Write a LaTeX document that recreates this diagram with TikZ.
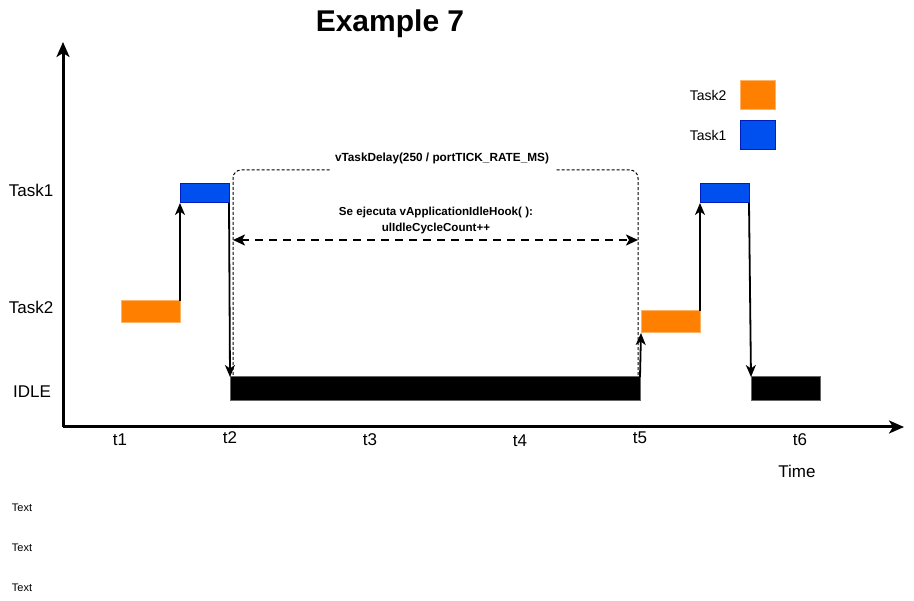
\documentclass[tikz,border=0pt]{standalone}
\usepackage{fontspec}
\setmainfont{Liberation Sans}
\usetikzlibrary{arrows.meta,positioning,calc}

\definecolor{tasktwofill}{HTML}{FF8000}
\definecolor{tasktwoline}{HTML}{FFB366}
\definecolor{taskonefill}{HTML}{0050EF}
\definecolor{taskoneline}{HTML}{001DBC}

\tikzset{
  slot/.style={rectangle, anchor=north west, inner sep=0pt, outer sep=0pt},
  taskone/.style={slot, fill=taskonefill, draw=taskoneline, line width=1pt},
  tasktwo/.style={slot, fill=tasktwofill, draw=tasktwoline, line width=1pt},
  idlebox/.style={slot, fill=black, draw=black!60, line width=1pt},
  switch/.style={line width=1.8pt, -{Stealth[length=12pt,width=10pt,inset=3.5pt]}},
  lbl/.style={font=\fontsize{17}{20}\selectfont},
  small/.style={font=\fontsize{11}{13}\selectfont}
}

\begin{document}
\begin{tikzpicture}[x=1pt, y=-1pt]
  \useasboundingbox (0,0) rectangle (914,601);

  \node[font=\fontsize{30}{35}\selectfont\bfseries] (title) at (390,24) {Example 7};

  % ejes
  \coordinate (orig) at (63,427);
  \coordinate (ytop) at (63,42);
  \coordinate (xend) at (904,427);
  \draw[line width=3pt, -{Stealth[length=15pt,width=13pt,inset=4pt]}] (orig) -- (ytop);
  \draw[line width=3pt, -{Stealth[length=15pt,width=13pt,inset=4pt]}] (orig) -- (xend);

  % estados a la izq.
  \node[lbl] (ltask1) at (31,190) {Task1};
  \node[lbl] (ltask2) at (31,307) {Task2};
  \node[lbl] (lidle)  at (32,392) {IDLE};

  % marcadores de tiempo
  \foreach \t/\x/\y in {1/120/440, 2/230/438, 3/370/440, 4/520/441, 5/640/438, 6/800/440}
    \node[lbl] (t\t) at (\x,\y) {t\t};
  \node[lbl] (time) at (797,471) {Time};

  % intervalo de retardo
  \draw[black, line width=1pt, dash pattern=on 3pt off 2pt, rounded corners=8pt] (233,385) -- (233,170) -- (638,170) -- (638,385);
  \node[fill=white, minimum width=225pt, minimum height=30pt, inner sep=0pt,
        font=\fontsize{11.8}{14}\selectfont\bfseries] (delay) at (442,158) {vTaskDelay(250 / portTICK\_RATE\_MS)};
  \node[align=center, font=\fontsize{11.6}{16}\selectfont\bfseries] (hook) at (436,221)
        {Se ejecuta vApplicationIdleHook( ):\\ulIdleCycleCount++};
  \coordinate (hl) at (233,240);
  \coordinate (hr) at (638,240);
  \draw[line width=2.4pt, dash pattern=on 8pt off 6pt,
        {Stealth[length=12pt,width=11pt,inset=3pt]}-{Stealth[length=12pt,width=11pt,inset=3pt]}] (hl) -- (hr);

  % franjas de ejecucion
  \node[tasktwo, minimum width=59pt, minimum height=22pt] (or1) at (121,301) {};
  \node[taskone, minimum width=49pt, minimum height=19pt] (bl1) at (180,184) {};
  \node[idlebox, minimum width=410pt, minimum height=24pt] (id1) at (230,377) {};
  \node[tasktwo, minimum width=59pt, minimum height=22pt] (or2) at (641,311) {};
  \node[taskone, minimum width=49pt, minimum height=19pt] (bl2) at (700,184) {};
  \node[idlebox, minimum width=69pt, minimum height=24pt] (id2) at (751,377) {};

  \draw[switch] (or1.north east) -- (bl1.south west);
  \draw[switch] (bl1.south east) -- (id1.north west);
  \draw[switch] (id1.north east) -- (or2.south west);
  \draw[switch] (or2.north east) -- (bl2.south west);
  \draw[switch] (bl2.south east) -- (id2.north west);

  % leyenda
  \node[tasktwo, minimum width=35pt, minimum height=29pt] (legtwo) at (740,81) {};
  \node[taskone, minimum width=35pt, minimum height=29pt] (legone) at (740,121) {};
  \node[font=\fontsize{14}{17}\selectfont, left=10pt of legtwo] (legtwotxt) {Task2};
  \node[font=\fontsize{14}{17}\selectfont, left=10pt of legone] (legonetxt) {Task1};

  % textos sueltos
  \foreach \y in {508,548,588}
    \node[small] (txt\y) at (22,\y) {Text};
\end{tikzpicture}
\end{document}
